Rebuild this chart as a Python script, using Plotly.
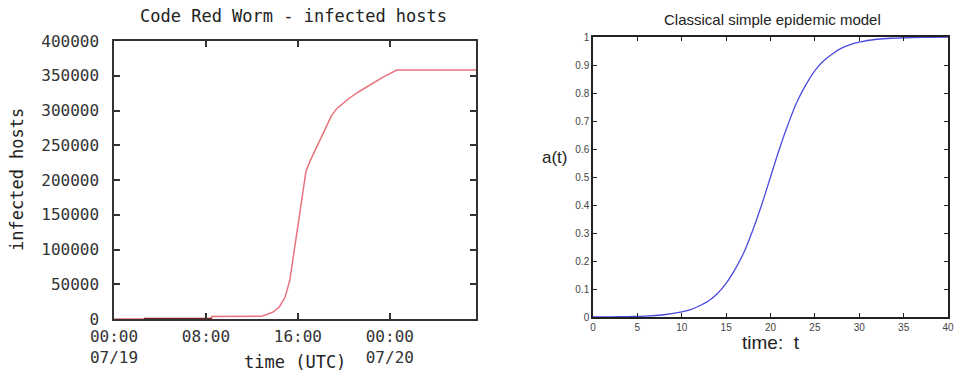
import plotly.graph_objects as go

# ---- Left chart: Code Red worm infected hosts (hours since 07/19 00:00 UTC) ----
cr_hours = [0, 2.6, 2.6, 8.5, 8.5, 12.8, 13.3, 13.9, 14.4, 14.9, 15.3, 15.6, 15.9, 16.2,
            16.5, 16.7, 17.0, 17.5, 18.0, 18.5, 18.9, 19.4, 20.0, 20.5, 21.3, 22.3, 23.3,
            24.6, 31.5]
cr_hosts = [0, 0, 500, 500, 3700, 3800, 6500, 10500, 17700, 32000, 56000, 89600, 128000,
            162000, 195000, 212000, 225000, 243000, 262000, 280000, 292000, 303000,
            311000, 318000, 327000, 337000, 347000, 358300, 358300]
# early low segment drawn darker where it overlaps the axis line
cr_early_hours = [2.6, 8.5]
cr_early_hosts = [500, 500]
cr_xtick_vals = [0, 8, 16, 24]
cr_xtick_text = ["00:00<br>07/19", "08:00", "16:00", "00:00<br>07/20"]
cr_ytick_vals = [0, 50000, 100000, 150000, 200000, 250000, 300000, 350000, 400000]

# ---- Right chart: classical simple epidemic model ----
ep_t = [0, 2, 4, 6, 8, 10, 11, 12, 13, 14, 15, 16, 17, 18, 19, 20, 21, 22, 23, 24, 25,
        26, 27, 28, 29, 30, 32, 34, 36, 38, 40]
ep_a = [0.0003, 0.0007, 0.0015, 0.003, 0.008, 0.018, 0.026, 0.04, 0.057, 0.083, 0.12,
        0.17, 0.23, 0.31, 0.40, 0.50, 0.60, 0.69, 0.77, 0.83, 0.88, 0.915, 0.94, 0.96,
        0.973, 0.982, 0.992, 0.996, 0.998, 0.999, 1.0]
ep_xtick_vals = [0, 5, 10, 15, 20, 25, 30, 35, 40]
ep_ytick_vals = [0, 0.1, 0.2, 0.3, 0.4, 0.5, 0.6, 0.7, 0.8, 0.9, 1]
ep_ytick_text = ["0", "0.1", "0.2", "0.3", "0.4", "0.5", "0.6", "0.7", "0.8", "0.9", "1"]

W, H = 955, 372
def px_x(p): return p / W
def px_y(p): return 1 - p / H

mono = "DejaVu Sans Mono"
sans = "Liberation Sans"

fig = go.Figure()
fig.add_trace(go.Scatter(x=cr_hours, y=cr_hosts, mode="lines", xaxis="x", yaxis="y",
                         line=dict(color="#e8727c", width=1.5), showlegend=False))
fig.add_trace(go.Scatter(x=cr_early_hours, y=cr_early_hosts, mode="lines", xaxis="x",
                         yaxis="y", line=dict(color="#7a1e22", width=2), showlegend=False))
fig.add_trace(go.Scatter(x=ep_t, y=ep_a, mode="lines", xaxis="x2", yaxis="y2",
                         line=dict(color="#4a4ae0", width=1.3, shape="spline"),
                         showlegend=False))

common = dict(showline=True, mirror="ticks", showgrid=False, zeroline=False,
              automargin=False, ticks="inside")

fig.update_layout(
    width=W, height=H, margin=dict(l=0, r=0, t=0, b=0),
    paper_bgcolor="white", plot_bgcolor="white",
    xaxis=dict(domain=[px_x(114), px_x(476)], range=[0, 31.5], tickvals=cr_xtick_vals,
               ticktext=cr_xtick_text, ticklen=6, tickwidth=1.5, tickcolor="#333",
               linecolor="#333", linewidth=1.5, anchor="y",
               tickfont=dict(family=mono, size=16, color="#333"), ticklabelstandoff=2,
               **common),
    yaxis=dict(domain=[px_y(319), px_y(41)], range=[0, 400000], tickvals=cr_ytick_vals,
               ticktext=[str(v) for v in cr_ytick_vals], ticklen=6, tickwidth=1.5,
               tickcolor="#333", linecolor="#333", linewidth=1.5, anchor="x",
               tickfont=dict(family=mono, size=16, color="#333"), ticklabelstandoff=10,
               **common),
    xaxis2=dict(domain=[px_x(593), px_x(948)], range=[0, 40], tickvals=ep_xtick_vals,
                ticklen=4, tickcolor="#222", linecolor="#222", linewidth=1.5,
                anchor="y2", tickfont=dict(family=sans, size=10, color="#444"),
                ticklabelstandoff=0, **common),
    yaxis2=dict(domain=[px_y(317), px_y(37)], range=[0, 1], tickvals=ep_ytick_vals,
                ticktext=ep_ytick_text, ticklen=4, tickcolor="#222", linecolor="#222",
                linewidth=1.5, anchor="x2",
                tickfont=dict(family=sans, size=10, color="#444"), ticklabelstandoff=0,
                **common),
    annotations=[
        dict(text="Code Red Worm - infected hosts", x=px_x(293), y=px_y(16), xref="paper",
             yref="paper", showarrow=False, xanchor="center", yanchor="middle",
             font=dict(family=mono, size=17, color="#222")),
        dict(text="infected hosts", x=px_x(17), y=px_y(180), xref="paper", yref="paper",
             showarrow=False, textangle=-90, xanchor="center", yanchor="middle",
             font=dict(family=mono, size=17, color="#222")),
        dict(text="time (UTC)", x=px_x(295), y=px_y(362), xref="paper", yref="paper",
             showarrow=False, xanchor="center", yanchor="middle",
             font=dict(family=mono, size=17, color="#222")),
        dict(text="Classical simple epidemic model", x=px_x(772), y=px_y(20), xref="paper",
             yref="paper", showarrow=False, xanchor="center", yanchor="middle",
             font=dict(family=sans, size=15, color="#222")),
        dict(text="a(t)", x=px_x(555), y=px_y(157), xref="paper", yref="paper",
             showarrow=False, xanchor="center", yanchor="middle",
             font=dict(family=sans, size=17, color="#222")),
        dict(text="time:  t", x=px_x(771), y=px_y(342), xref="paper", yref="paper",
             showarrow=False, xanchor="center", yanchor="middle",
             font=dict(family=sans, size=19, color="#222")),
    ],
)

fig.write_html("out.html", config={"displayModeBar": False},
               post_script="document.body.style.margin='0';document.body.style.overflow='hidden';")
